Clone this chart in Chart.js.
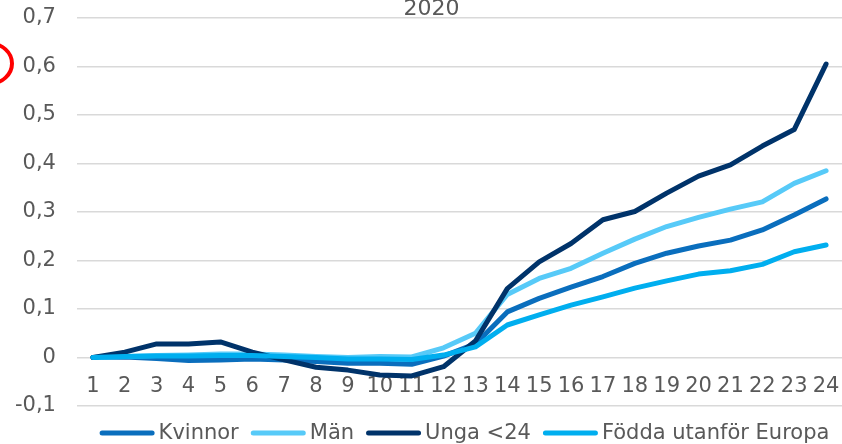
<!DOCTYPE html>
<html>
<head>
<meta charset="utf-8">
<script src="https://cdn.jsdelivr.net/npm/chart.js@4/dist/chart.umd.min.js"></script>
<style>
  html, body { margin: 0; padding: 0; background: #ffffff; }
  #wrap { width: 842px; height: 444px; position: relative; }
</style>
</head>
<body>
<div id="wrap"><canvas id="c" width="842" height="444"></canvas></div>
<script>
const categories = ['1','2','3','4','5','6','7','8','9','10','11','12','13','14','15','16','17','18','19','20','21','22','23','24'];
const seriesNames = ['Kvinnor', 'Män', 'Unga <24', 'Födda utanför Europa'];
const kvinnor = [0, 0.001, -0.002, -0.006, -0.005, -0.003, -0.005, -0.008, -0.012, -0.012, -0.014, 0.003, 0.028, 0.094, 0.122, 0.145, 0.167, 0.194, 0.215, 0.230, 0.242, 0.263, 0.294, 0.327];
const man = [0, 0.002, 0.004, 0.005, 0.007, 0.007, 0.005, 0.002, 0.000, 0.002, 0.001, 0.020, 0.050, 0.130, 0.163, 0.184, 0.215, 0.244, 0.270, 0.289, 0.306, 0.321, 0.359, 0.385];
const unga = [0, 0.011, 0.028, 0.028, 0.032, 0.011, -0.005, -0.020, -0.026, -0.036, -0.038, -0.019, 0.034, 0.142, 0.197, 0.235, 0.284, 0.301, 0.339, 0.374, 0.397, 0.436, 0.470, 0.605];
const fodda = [0, 0.002, 0.003, 0.003, 0.004, 0.004, 0.002, 0.000, -0.003, -0.003, -0.004, 0.005, 0.022, 0.067, 0.088, 0.108, 0.125, 0.143, 0.158, 0.172, 0.179, 0.192, 0.218, 0.232];
const yTicks = [-0.1, 0, 0.1, 0.2, 0.3, 0.4, 0.5, 0.6, 0.7];
const titleText = '2020';

const colors = ['#0A6EBD', '#57CAF8', '#00336A', '#00AEEF'];
const seriesData = [kvinnor, man, unga, fodda];
const FONT = "'DejaVu Sans', Verdana, sans-serif";
const TXT = '#595959';

const datasets = seriesNames.map((name, i) => ({
  label: name,
  data: seriesData[i],
  borderColor: colors[i],
  backgroundColor: colors[i],
  borderWidth: 5,
  pointRadius: 0,
  pointHoverRadius: 0,
  tension: 0,
  fill: false,
  borderCapStyle: 'round',
  borderJoinStyle: 'round',
  order: seriesNames.length - i
}));

const titlePlugin = {
  id: 'titleText',
  afterDraw(chart) {
    const ctx = chart.ctx;
    ctx.save();
    ctx.font = '22px ' + FONT;
    ctx.fillStyle = TXT;
    ctx.textAlign = 'center';
    ctx.textBaseline = 'alphabetic';
    ctx.fillText(titleText, 431.5, 15);
    ctx.restore();
  }
};

const legendPlugin = {
  id: 'customLegend',
  afterDraw(chart) {
    const ctx = chart.ctx;
    ctx.save();
    ctx.font = '21px ' + FONT;
    const sampleLen = 50, cap = 2.5, gapText = 4, gapItem = 12;
    const items = chart.data.datasets.map(ds => ({
      label: ds.label, color: ds.borderColor, w: ctx.measureText(ds.label).width
    }));
    let total = 0;
    items.forEach((it, i) => {
      total += sampleLen + 2 * cap + gapText + it.w;
      if (i < items.length - 1) total += gapItem;
    });
    let x = 464.5 - total / 2;
    const y = 433;
    items.forEach(it => {
      ctx.beginPath();
      ctx.strokeStyle = it.color;
      ctx.lineWidth = 5;
      ctx.lineCap = 'round';
      ctx.moveTo(x + cap, y);
      ctx.lineTo(x + cap + sampleLen, y);
      ctx.stroke();
      x += sampleLen + 2 * cap + gapText;
      ctx.fillStyle = TXT;
      ctx.textAlign = 'left';
      ctx.textBaseline = 'middle';
      ctx.fillText(it.label, x, y + 1);
      x += it.w + gapItem;
    });
    ctx.restore();
  }
};

const markPlugin = {
  id: 'redMark',
  afterDraw(chart) {
    const ctx = chart.ctx;
    ctx.save();
    ctx.beginPath();
    ctx.strokeStyle = '#FF0000';
    ctx.lineWidth = 4;
    ctx.ellipse(-10, 63.5, 22, 20, 0, 0, Math.PI * 2);
    ctx.stroke();
    ctx.restore();
  }
};

function zeroPad(scale) {
  scale.paddingTop = 0;
  scale.paddingBottom = 0;
  scale.paddingLeft = 0;
  scale.paddingRight = 0;
}

new Chart(document.getElementById('c'), {
  type: 'line',
  data: { labels: categories, datasets },
  options: {
    responsive: false,
    animation: false,
    devicePixelRatio: 1,
    layout: { padding: { top: 18, bottom: 38, left: -6, right: -2 } },
    plugins: {
      legend: { display: false },
      title: { display: false },
      tooltip: { enabled: false }
    },
    scales: {
      x: {
        type: 'category',
        position: { y: 0 },
        offset: true,
        afterFit: zeroPad,
        grid: { display: false, drawTicks: false },
        border: { display: false },
        ticks: {
          color: TXT,
          font: { family: FONT, size: 21 },
          padding: 16,
          autoSkip: false,
          maxRotation: 0,
          minRotation: 0
        }
      },
      y: {
        min: yTicks[0],
        max: yTicks[yTicks.length - 1],
        afterFit: zeroPad,
        afterBuildTicks(scale) { scale.ticks = yTicks.map(v => ({ value: v })); },
        grid: { color: '#D9D9D9', lineWidth: 1.5, drawTicks: false },
        border: { display: false },
        ticks: {
          color: TXT,
          font: { family: FONT, size: 21 },
          padding: 21,
          callback: (v) => {
            const r = Math.round(v * 10) / 10;
            return r === 0 ? '0' : String(r).replace('.', ',');
          }
        }
      }
    }
  },
  plugins: [titlePlugin, legendPlugin, markPlugin]
});
</script>
</body>
</html>
